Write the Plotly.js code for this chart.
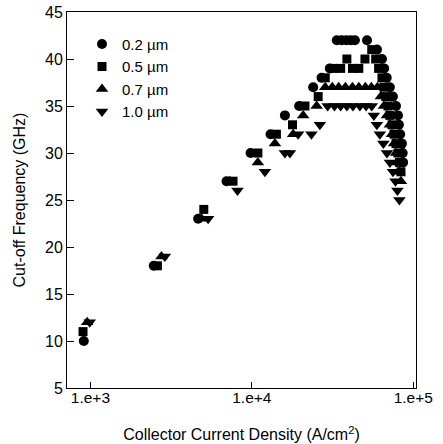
<!DOCTYPE html>
<html>
<head>
<meta charset="utf-8">
<script src="https://cdn.plot.ly/plotly-3.0.1.min.js"></script>
<style>html,body{margin:0;padding:0;background:#fff;}#chart{width:443px;height:444px;}</style>
</head>
<body>
<div id="chart"></div>
<script>
// Series names
const seriesNames = ["0.2 \u00b5m", "0.5 \u00b5m", "0.7 \u00b5m", "1.0 \u00b5m"];

// 0.2 µm (circles)
const x02 = [910, 2470, 4650, 6970, 9820, 13060, 16030, 19640, 23990, 27040, 30420, 33600, 36000, 38500, 41000, 43500, 51700, 59600, 64000, 66000, 68500, 71600, 74800, 78200, 80400, 81500, 83000, 85100, 86000, 86500];
const y02 = [10, 18, 23, 27, 30, 32, 34, 35, 37, 38, 39, 42, 42, 42, 42, 42, 42, 41, 40, 39, 38, 37, 36, 35, 34, 33, 32, 31, 30, 29];

// 0.5 µm (squares)
const x05 = [900, 2600, 5040, 7650, 10900, 14200, 17860, 21330, 25760, 28500, 32000, 35500, 38800, 42000, 46000, 50200, 55300, 58500, 61000, 64000, 65800, 67600, 69800, 71700, 73900, 76000, 78200, 80400, 82100, 83900];
const y05 = [11, 18, 24, 27, 30, 32, 33, 35, 36, 38, 39, 39, 40, 39, 39, 40, 41, 40, 39, 38, 37, 36, 35, 34, 33, 32, 31, 30, 29, 28];

// 0.7 µm (triangle up)
const x07 = [955, 2755, 4880, 7300, 10900, 13900, 18030, 20800, 25200, 28500, 31500, 34500, 38000, 42000, 46000, 50500, 55000, 60000, 63000, 65800, 68700, 71700, 73900, 76000, 78200, 80400, 82100, 83900];
const y07 = [12, 19, 23, 27, 29, 31, 32, 34, 35, 37, 37, 37, 37, 37, 37, 37, 37, 37, 36, 35, 34, 33, 32, 31, 30, 29, 28, 27];

// 1.0 µm (triangle down)
const x10 = [990, 2890, 5360, 8150, 12050, 16030, 17220, 19360, 23400, 26400, 29500, 32500, 35500, 38800, 42300, 46700, 51000, 55300, 57000, 59500, 62100, 65300, 68700, 71700, 74900, 77600, 79800, 82100];
const y10 = [12, 19, 23, 26, 28, 30, 30, 32, 32, 33, 35, 35, 35, 35, 35, 35, 35, 35, 34, 33, 32, 31, 30, 29, 28, 27, 26, 25];

// Axis ticks
const xTickVals = [1000, 10000, 100000];
const xTickText = ["1.e+3", "1.e+4", "1.e+5"];
const yTickVals = [5, 10, 15, 20, 25, 30, 35, 40, 45];

const symbols = ["circle", "square", "triangle-up", "triangle-down"];
const sizes = [10, 9, 11, 11];
const xs = [x02, x05, x07, x10];
const ys = [y02, y05, y07, y10];

const traces = seriesNames.map((name, i) => ({
  type: "scatter",
  mode: "markers",
  name: name,
  x: xs[i],
  y: ys[i],
  marker: {symbol: symbols[i], size: sizes[i], color: "#000", line: {width: 0}}
}));

const fam = "Liberation Sans, Arial, sans-serif";
const font = {family: fam, size: 16, color: "#000"};

const layout = {
  width: 443,
  height: 444,
  margin: {l: 67, r: 27, t: 12, b: 56},
  paper_bgcolor: "#fff",
  plot_bgcolor: "#fff",
  font: font,
  showlegend: true,
  legend: {
    x: 0.043, y: 0.958, xanchor: "left", yanchor: "top",
    bgcolor: "rgba(0,0,0,0)", borderwidth: 0,
    font: {family: fam, size: 15, color: "#000"},
    tracegroupgap: 0
  },
  xaxis: {
    type: "log",
    range: [2.855, 5.017],
    tickvals: xTickVals,
    ticktext: xTickText,
    ticks: "inside",
    ticklen: 6,
    tickcolor: "#000",
    showline: true,
    linecolor: "#000",
    linewidth: 1,
    mirror: true,
    showgrid: false,
    zeroline: false,
    ticklabelstandoff: -5,
    tickfont: {family: fam, size: 15.5, color: "#000"},
    title: {text: "Collector Current Density (A/cm<sup>2</sup>)", font: {family: fam, size: 16, color: "#000"}, standoff: 24}
  },
  yaxis: {
    range: [5, 45],
    tickvals: yTickVals,
    ticks: "inside",
    ticklen: 7,
    tickcolor: "#000",
    showline: true,
    linecolor: "#000",
    linewidth: 1,
    mirror: true,
    showgrid: false,
    zeroline: false,
    tickfont: {family: fam, size: 16, color: "#000"},
    title: {text: "Cut-off Frequency (GHz)", font: {family: fam, size: 16, color: "#000"}, standoff: 15}
  }
};

Plotly.newPlot("chart", traces, layout, {staticPlot: true, displayModeBar: false});
</script>
</body>
</html>
